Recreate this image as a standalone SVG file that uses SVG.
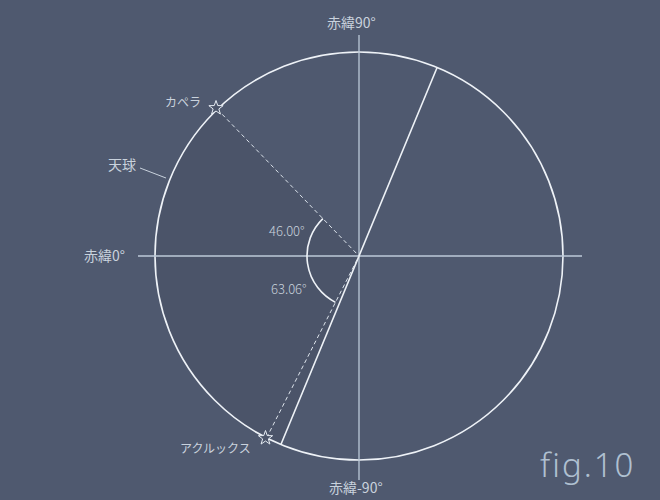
<svg xmlns="http://www.w3.org/2000/svg" width="660" height="500" viewBox="0 0 660 500">
<style>
.lbl{font-family:"Noto Sans CJK JP","Noto Sans",sans-serif;fill:#c9d2dd}
.num{font-family:"Noto Sans CJK JP","Noto Sans",sans-serif;fill:#c9d2dd;font-weight:300}
.ax{stroke:#bccad8;stroke-width:1.3;fill:none}
.ln{stroke:#eef2f7;stroke-width:1.6;fill:none}
.dash{stroke:#dde4ec;stroke-width:1;stroke-dasharray:4 3;fill:none}
.star{fill:#4b5469;stroke:#e6ecf3;stroke-width:1}
</style>
<defs>
<polygon id="star" points="0,-7.5 1.76,-2.43 7.13,-2.32 2.85,0.93 4.41,6.07 0,3 -4.41,6.07 -2.85,0.93 -7.13,-2.32 -1.76,-2.43"/>
</defs>
<rect width="660" height="500" fill="#4f596f"/>
<g id="sphere">
<path d="M359,256 L217.29,109.25 A204,204 0 0 0 280.9,444.5 Z" fill="#4b5469"/>
<circle cx="359" cy="256" r="204" class="ln"/>
</g>
<g id="connectors">
<line x1="138" y1="256" x2="582" y2="256" class="ax"/>
<line x1="359" y1="35" x2="359" y2="480" class="ax"/>
<line x1="437.1" y1="67.5" x2="280.9" y2="444.5" class="ln"/>
<line x1="217.29" y1="109.25" x2="359" y2="256" class="dash"/>
<line x1="266.57" y1="437.86" x2="359" y2="256" class="dash"/>
<path d="M322.88,218.59 A52,52 0 0 0 335.44,302.36" class="ln" stroke-width="1.3"/>
<line x1="140" y1="168" x2="166" y2="178" stroke="#c9d2dd" stroke-width="1"/>
</g>
<g id="capella">
<use href="#star" x="216" y="108" class="star"/>
<text x="165" y="107" class="lbl" font-size="12">カペラ</text>
</g>
<g id="arcturus">
<use href="#star" x="265.5" y="438" class="star"/>
<text x="180" y="453" class="lbl" font-size="12">アクルックス</text>
</g>
<g id="labels">
<text x="327" y="28" class="lbl" font-size="14">赤緯90°</text>
<text x="329" y="493" class="lbl" font-size="14">赤緯-90°</text>
<text x="84" y="261" class="lbl" font-size="14">赤緯0°</text>
<text x="108" y="170" class="lbl" font-size="14">天球</text>
<text x="269" y="236" class="num" font-size="13">46.00°</text>
<text x="271" y="294" class="num" font-size="13">63.06°</text>
</g>
<g id="title">
<text x="540" y="477" font-family="Noto Sans" font-weight="300" font-size="33" letter-spacing="2" fill="#afc0d1">fig.10</text>
</g>
</svg>
